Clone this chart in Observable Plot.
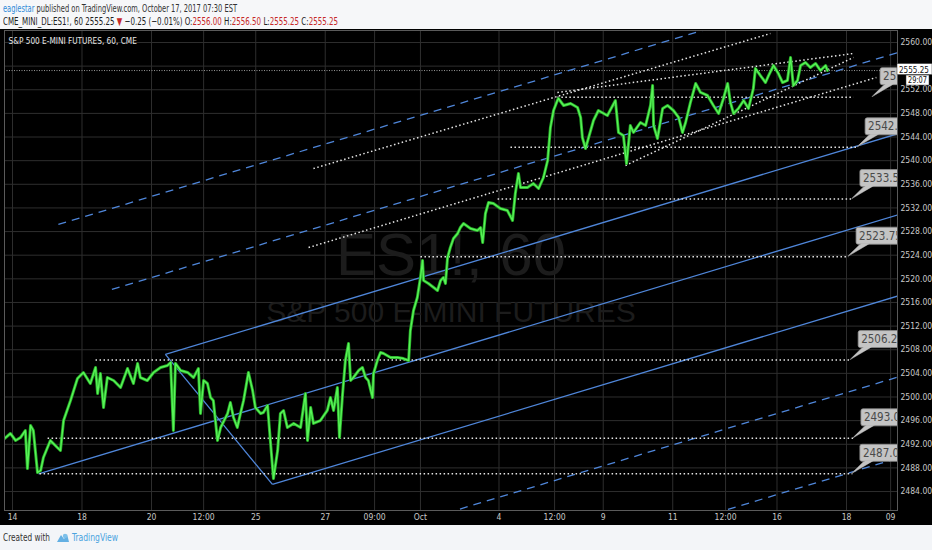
<!DOCTYPE html>
<html><head><meta charset="utf-8">
<script src="https://cdn.jsdelivr.net/npm/d3@7"></script>
<script src="https://cdn.jsdelivr.net/npm/@observablehq/plot@0.6"></script>
<style>
body{margin:0;background:#f3f5f8;width:932px;height:550px;overflow:hidden;font-family:"Liberation Sans Narrow","DejaVu Sans Condensed",sans-serif;}
#hdr{height:29px;position:relative;background:#f6f7f9}
#hdr div{position:absolute;left:3px;font-size:10.5px;white-space:nowrap;transform-origin:0 0}
.l1{top:2px;color:#333}
.l2{top:15px;color:#222}
.blue{color:#2f8ad8}
.red{color:#c62828}
#chart{height:496px;background:#000;line-height:0}
#ftr{position:relative;height:25px}
#ftr span{position:absolute;top:7px;font-size:10px;white-space:nowrap;transform-origin:0 0}
</style></head>
<body>
<div id="hdr">
  <div class="l1" data-w="234"><span class="blue">eaglestar</span> published on TradingView.com, October 17, 2017 07:30 EST</div>
  <div class="l2" data-w="335">CME_MINI_DL:ES1!, 60 2555.25 <span class="red">▼</span> −0.25 (−0.01%) O:<span class="red">2556.00</span> H:<span class="red">2556.50</span> L:<span class="red">2555.25</span> C:<span class="red">2555.25</span></div>
</div>
<div id="chart"></div>
<div id="ftr">
  <span style="left:3px;color:#333" data-w="47">Created with</span>
  <svg style="position:absolute;left:56px;top:7px" width="14" height="11" viewBox="0 0 14 11"><path d="M1 10 L5 3 L8 7 L11 2 L13 10 Z" fill="#4aa3df" opacity="0.85"/><circle cx="9" cy="4" r="2.2" fill="#7cc0ea"/></svg>
  <span style="left:72px;color:#4aa3df" data-w="46">TradingView</span>
</div>
<script>
// ---- price series (x = trading-day index from Sep 14, y = price) ----
const dayIdx = [-0.23,-0.06,0.09,0.23,0.37,0.43,0.52,0.60,0.72,0.81,0.89,1.09,1.29,1.38,1.47,1.67,1.87,2.04,2.24,2.39,2.45,2.53,2.62,2.73,2.91,3.11,3.31,3.48,3.60,3.68,3.88,4.06,4.26,4.46,4.55,4.63,4.69,4.84,5.04,5.21,5.35,5.41,5.50,5.61,5.70,5.78,5.90,5.99,6.19,6.27,6.36,6.47,6.56,6.65,6.79,6.91,6.99,7.14,7.22,7.34,7.42,7.51,7.63,7.71,7.80,7.91,8.09,8.29,8.43,8.49,8.58,8.66,8.86,9.06,9.15,9.24,9.35,9.41,9.50,9.58,9.67,9.73,9.81,9.96,10.07,10.16,10.24,10.36,10.39,10.50,10.59,10.68,10.88,11.08,11.25,11.40,11.45,11.54,11.65,11.74,11.80,11.83,11.97,12.12,12.23,12.32,12.40,12.46,12.52,12.60,12.69,12.81,12.89,12.98,13.18,13.38,13.47,13.53,13.61,13.70,13.84,14.04,14.24,14.39,14.47,14.56,14.62,14.82,14.99,15.14,15.28,15.40,15.48,15.57,15.68,15.71,15.86,16.06,16.26,16.35,16.40,16.49,16.58,16.72,16.86,17.12,17.35,17.44,17.58,17.67,17.78,17.87,18.07,18.22,18.36,18.42,18.45,18.56,18.71,18.85,19.02,19.17,19.28,19.37,19.51,19.66,19.80,20.00,20.17,20.32,20.46,20.58,20.66,20.75,20.89,21.04,21.18,21.32,21.38,21.52,21.67,21.76,21.90,22.04,22.16,22.30,22.39,22.47,22.59,22.68,22.82,22.96,23.11,23.25,23.40,23.45];
const price = [2492.97,2493.82,2492.64,2493.14,2494.33,2487.89,2495.18,2494.33,2487.22,2487.56,2489.76,2492.64,2491.45,2490.94,2496.02,2499.41,2503.13,2504.15,2502.28,2504.99,2500.59,2503.98,2498.22,2503.30,2502.79,2501.61,2504.82,2502.28,2505.67,2503.30,2502.79,2504.15,2504.99,2505.33,2505.84,2494.33,2505.67,2504.48,2504.15,2503.30,2504.82,2497.21,2502.79,2502.28,2499.91,2499.41,2492.64,2494.84,2497.21,2499.07,2496.53,2494.84,2497.21,2499.41,2504.15,2501.10,2498.22,2497.21,2497.38,2498.56,2492.64,2486.20,2490.94,2497.21,2497.72,2494.84,2495.52,2494.84,2500.59,2492.64,2498.22,2495.52,2496.02,2497.72,2499.91,2497.72,2501.61,2493.14,2500.59,2506.18,2509.05,2502.79,2503.30,2504.48,2504.99,2503.30,2502.79,2499.91,2503.98,2506.18,2507.53,2507.36,2506.68,2506.68,2506.51,2506.18,2511.25,2514.64,2516.84,2520.22,2523.10,2519.72,2519.21,2518.53,2518.02,2519.72,2520.22,2519.21,2523.61,2525.30,2526.83,2527.67,2528.69,2529.36,2528.52,2528.18,2528.69,2526.15,2531.06,2532.92,2532.75,2531.90,2531.57,2529.87,2534.44,2537.83,2535.46,2535.46,2536.14,2535.29,2537.15,2540.03,2545.61,2548.49,2550.18,2550.52,2549.34,2549.68,2549.00,2547.31,2543.92,2542.06,2543.92,2546.80,2548.49,2547.64,2550.18,2544.77,2544.26,2539.52,2545.95,2544.77,2546.46,2545.95,2549.34,2552.72,2545.95,2543.75,2548.83,2549.34,2548.49,2547.31,2544.77,2546.46,2549.85,2553.06,2551.54,2551.03,2549.34,2547.98,2550.52,2553.06,2549.85,2547.98,2548.83,2550.18,2548.83,2552.21,2555.60,2554.42,2553.23,2554.42,2556.11,2554.75,2553.23,2553.57,2557.46,2552.72,2553.57,2556.11,2556.62,2555.77,2556.45,2555.26,2556.11,2555.25];

// ---- axis ticks ----
const xTickPos = [0,2,4,5.5,7,9,10.42,11.74,14,15.6,17,19,20.52,22,24,25.27];
const xTickLabels = ["14","18","20","12:00","25","27","09:00","Oct","4","12:00","9","11","12:00","16","18","09"];
const yTicks = d3.range(2484, 2561, 4);
const yTickHidden = [2556]; // covered by the last-price tag in the reference

// ---- horizontal levels with price callouts ----
const levelPrices = [2487.0, 2493.0, 2506.25, 2523.75, 2533.5, 2542.25, 2550.75];
const levelLabels = ["2487.00","2493.00","2506.25","2523.75","2533.50","2542.25","2550.75"];
const levelStart = [0.78, 1.01, 2.39, 11.74, 13.96, 14.33, 15.68];
const levelEnd = [24.17, 24.20, 24.12, 24.06, 24.17, 24.32, 24.20];
const calloutX = [24.17, 24.20, 24.12, 24.06, 24.17, 24.32, 24.75];

// ---- Andrews pitchfork pivots (A, B, C) and levels ----
const pitchX = [0.75, 4.40, 7.48];
const pitchY = [2487.0, 2507.2, 2485.2];
const pitchLevels = [-3, -2, -1, 0, 1, 2, 3];

// ---- dotted trend lines ----
const trendX1 = [8.66, 8.52, 15.68, 17.64];
const trendY1 = [2538.67, 2525.30, 2551.54, 2539.18];
const trendX2 = [21.81, 24.86, 24.20, 24.20];
const trendY2 = [2561.52, 2554.08, 2558.14, 2557.46];

const lastPrice = 2555.25;
const countdown = "29:07";

// ---------------------------------------------------------------
// fit header/footer text lines to the reference widths
document.querySelectorAll("[data-w]").forEach(el => {
  const w = el.getBoundingClientRect().width;
  el.style.transform = `scaleX(${(+el.dataset.w / w).toFixed(4)})`;
});

const series = dayIdx.map((t, i) => ({t, p: price[i]}));
const A = [pitchX[0], pitchY[0]], B = [pitchX[1], pitchY[1]], C = [pitchX[2], pitchY[2]];
const M = [(B[0] + C[0]) / 2, (B[1] + C[1]) / 2];
const slope = (M[1] - A[1]) / (M[0] - A[0]);
const xEnd = 27;
const fork = pitchLevels.map(k => {
  const s = k === 0 ? A : [M[0] + k * (C[0] - M[0]), M[1] + k * (C[1] - M[1])];
  return {x1: s[0], y1: s[1], x2: xEnd, y2: s[1] + (xEnd - s[0]) * slope, dashed: Math.abs(k) > 1};
});
fork.push({x1: B[0], y1: B[1], x2: C[0], y2: C[1], dashed: false});
const levels = levelPrices.map((p, i) => ({p, x1: levelStart[i], x2: levelEnd[i], cx: calloutX[i], label: levelLabels[i]}));
const trends = trendX1.map((x, i) => ({x1: x, y1: trendY1[i], x2: trendX2[i], y2: trendY2[i]}));
const labelMap = new Map(xTickPos.map((d, i) => [d, xTickLabels[i]]));
const yLabelTicks = yTicks.filter(d => !yTickHidden.includes(d));

const FONT = '"Liberation Sans Narrow","DejaVu Sans Condensed",sans-serif';

function callouts(index, scales, values, dim) {
  const id = "clipc";
  const g = d3.create("svg:g").attr("text-anchor", "start");
  g.append("clipPath").attr("id", id).append("rect")
    .attr("x", dim.marginLeft).attr("y", dim.marginTop)
    .attr("width", dim.width - dim.marginLeft - dim.marginRight)
    .attr("height", dim.height - dim.marginTop - dim.marginBottom);
  const inner = g.append("g").attr("clip-path", `url(#${id})`);
  levels.forEach(d => {
    const px = scales.x(d.cx), py = scales.y(d.p);
    const bx = px + 8, by = py - 29;
    inner.append("path")
      .attr("d", `M${px},${py} L${bx + 5},${by + 16} L${bx + 14},${by + 16} Z`)
      .attr("fill", "#bdbdbd").attr("stroke", "#8d8d8d").attr("stroke-width", 0.8);
    inner.append("rect").attr("x", bx).attr("y", by).attr("width", 60).attr("height", 17).attr("rx", 2)
      .attr("fill", "#c4c4c4").attr("stroke", "#8d8d8d").attr("stroke-width", 0.8);
    inner.append("path").attr("d", `M${px + 0.6},${py - 0.8} L${bx + 5.6},${by + 16.4} L${bx + 13.4},${by + 16.4}`)
      .attr("fill", "#c4c4c4").attr("stroke", "none");
    inner.append("text").attr("x", bx + 3).attr("y", by + 12.5).attr("text-anchor", "start")
      .attr("fill", "#4a4a4a").attr("font-size", 11.5).attr("font-family", FONT).text(d.label);
  });
  return g.node();
}

function priceTag(index, scales, values, dim) {
  const g = d3.create("svg:g").attr("font-family", FONT).attr("text-anchor", "start");
  const x0 = dim.width - dim.marginRight, py = scales.y(lastPrice);
  g.append("rect").attr("x", x0).attr("y", py - 6.5).attr("width", 35).attr("height", 11).attr("fill", "#fff").attr("stroke", "#333").attr("stroke-width", 0.5);
  g.append("text").attr("x", x0 + 2).attr("y", py + 2.5).attr("font-size", 8.5).attr("fill", "#111")
    .attr("textLength", 30).attr("lengthAdjust", "spacingAndGlyphs").text(lastPrice.toFixed(2));
  g.append("rect").attr("x", x0 + 9).attr("y", py + 5).attr("width", 23).attr("height", 10).attr("fill", "#fff").attr("stroke", "#333").attr("stroke-width", 0.5);
  g.append("text").attr("x", x0 + 11).attr("y", py + 12.8).attr("font-size", 8).attr("fill", "#111")
    .attr("textLength", 19).attr("lengthAdjust", "spacingAndGlyphs").text(countdown);
  return g.node();
}

const chart = Plot.plot({
  width: 932, height: 496,
  marginLeft: 4, marginRight: 35, marginTop: 1, marginBottom: 15,
  style: {background: "#000", color: "#bbb", fontFamily: FONT},
  x: {domain: [-0.23, 25.468], axis: null},
  y: {domain: [2480.79, 2562.03], axis: null},
  marks: [
    Plot.gridX(xTickPos, {stroke: "#2e2e2e", strokeOpacity: 1}),
    Plot.gridY(yTicks, {stroke: "#2e2e2e", strokeOpacity: 1}),
    Plot.text(["ES1!, 60"], {frameAnchor: "middle", dy: -15, fontSize: 60, fill: "#1c1c1c", fontFamily: "Liberation Sans, sans-serif"}),
    Plot.text(["S&P 500 E-MINI FUTURES"], {frameAnchor: "middle", dy: 42, fontSize: 30, fill: "#1c1c1c", fontFamily: "Liberation Sans, sans-serif"}),
    Plot.text(["S&P 500 E-MINI FUTURES, 60, CME"], {frameAnchor: "top-left", dx: 4, dy: 8, fill: "#e6e6e6", fontSize: 8.2, textAnchor: "start"}),
    Plot.ruleY([lastPrice], {stroke: "#9a9a9a", strokeWidth: 1, strokeDasharray: "1,1.5"}),
    Plot.link(fork.filter(d => !d.dashed), {x1: "x1", y1: "y1", x2: "x2", y2: "y2", stroke: "#4f86d9", strokeWidth: 1.3, clip: true}),
    Plot.link(fork.filter(d => d.dashed), {x1: "x1", y1: "y1", x2: "x2", y2: "y2", stroke: "#4f86d9", strokeWidth: 1.3, strokeDasharray: "8,6", clip: true}),
    Plot.link(levels, {x1: "x1", x2: "x2", y1: "p", y2: "p", stroke: "#e6e6e6", strokeWidth: 1.5, strokeDasharray: "1.5,2.5", clip: true}),
    Plot.link(trends, {x1: "x1", y1: "y1", x2: "x2", y2: "y2", stroke: "#e6e6e6", strokeWidth: 1.5, strokeDasharray: "1.5,2.5", clip: true}),
    Plot.line(series, {x: "t", y: "p", stroke: "#27ad27", strokeWidth: 3, clip: true}),
    Plot.line(series, {x: "t", y: "p", stroke: "#58f358", strokeWidth: 1.4, clip: true}),
    callouts,
    Plot.axisY(yLabelTicks, {anchor: "right", tickSize: 0, tickPadding: 3, tickFormat: d => d.toFixed(2), fontSize: 8.5, fill: "#c8c8c8"}),
    Plot.axisX(xTickPos, {anchor: "bottom", tickSize: 0, tickPadding: 3, tickFormat: d => labelMap.get(d), fontSize: 8.5, fill: "#c8c8c8"}),
    Plot.frame({stroke: "#5a5a5a"}),
    priceTag
  ]
});
document.getElementById("chart").appendChild(chart);
</script>
</body></html>
